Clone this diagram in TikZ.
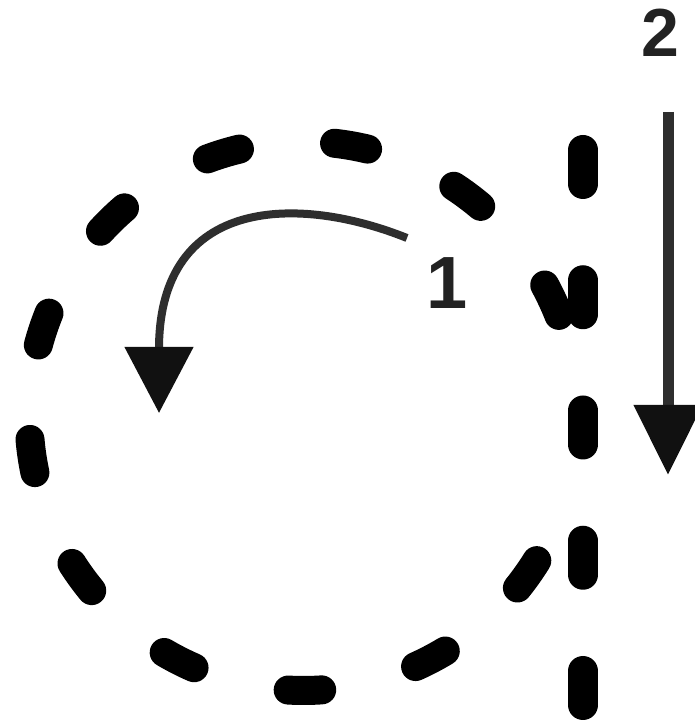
\documentclass[tikz,border=0pt]{standalone}
\usepackage{fontspec}
\setmainfont{Liberation Sans}
\usetikzlibrary{arrows.meta,calc}
\definecolor{arrowgray}{HTML}{2E2E2E}
\definecolor{headblack}{HTML}{111111}
\definecolor{labelgray}{HTML}{222222}
\tikzset{
  cdash/.style={line width=29pt, line cap=round, black},
  vdash/.style={line width=30pt, line cap=round, black, dash pattern=on 34pt off 96.25pt},
  curvearrow/.style={line width=8pt, arrowgray, -{Triangle[length=66pt,width=67pt,color=headblack]}, shorten >=-66pt},
  downarrow/.style={line width=11pt, arrowgray, -{Triangle[length=70pt,width=66pt,color=headblack]}},
  lbl/.style={inner sep=0pt, text=labelgray}
}
\begin{document}
\begin{tikzpicture}[x=1pt,y=1pt]
  \useasboundingbox (0,0) rectangle (694,725);
  \fill[white] (0,0) rectangle (694,725);
  % dashed circle
  \coordinate (C) at (303.5,309);
  \foreach \a in {80,53.3,25,-35.3,-62.4,-89.7,-117,-144,-171.6,161.5,134.2,107} {
    \draw[cdash] (C) ++(\a-3.5:274.5) arc[start angle=\a-3.5, end angle=\a+3.5, radius=274.5];
  }
  % dashed vertical line
  \coordinate (vtop) at (583,575);
  \coordinate (vbot) at (583,0);
  \draw[vdash] (vtop) -- (vbot);
  % curved arrow 1
  \coordinate (s1) at (407,487);
  \coordinate (e1) at (159,378);
  \draw[curvearrow] (s1) .. controls (300,530) and (159,530) .. (e1);
  \node[lbl, font=\bfseries\fontsize{74}{74}\selectfont] (l1) at (447,442) {1};
  % straight arrow 2
  \coordinate (s2) at (668,613);
  \coordinate (e2) at (668,250);
  \draw[downarrow] (s2) -- (e2);
  \node[lbl, font=\bfseries\fontsize{68}{68}\selectfont] (l2) at (660,692) {2};
\end{tikzpicture}
\end{document}
